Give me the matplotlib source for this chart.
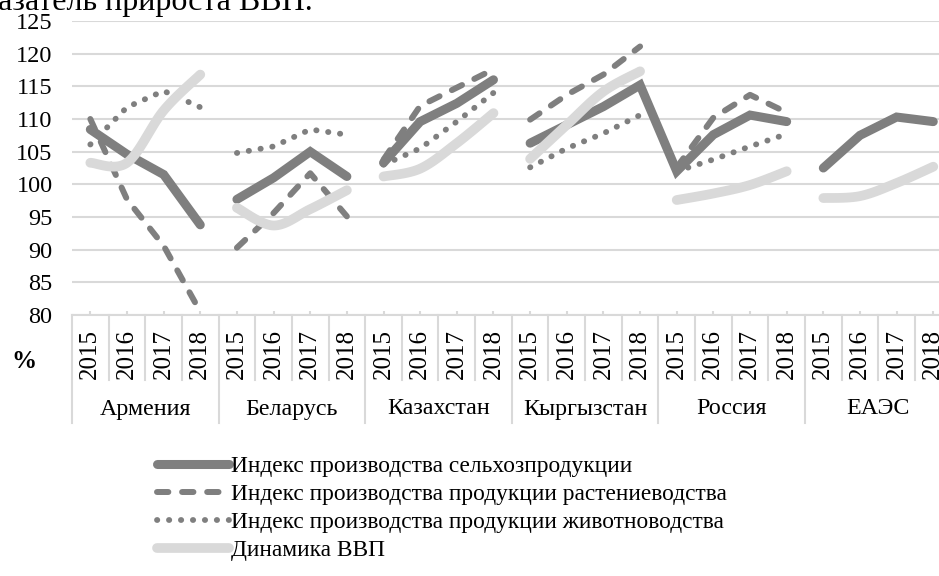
import numpy as np
import matplotlib
matplotlib.use('Agg')
import matplotlib.pyplot as plt
import matplotlib.transforms as mtransforms

plt.rcParams['font.family'] = ['Liberation Serif', 'DejaVu Serif']

countries = ['Армения', 'Беларусь', 'Казахстан', 'Кыргызстан', 'Россия', 'ЕАЭС']
years = ['2015', '2016', '2017', '2018']
nan = np.nan

agri = [108.4, 104.6, 101.5, 93.8,
        97.7, 101.0, 105.0, 101.2,
        103.3, 109.6, 112.4, 116.0,
        106.3, 109.1, 111.9, 115.2,
        102.0, 107.6, 110.6, 109.6,
        102.5, 107.5, 110.3, 109.6]
crop = [110.0, 97.7, 90.6, 80.5,
        90.3, 95.6, 101.7, 95.1,
        103.8, 112.0, 114.8, 117.6,
        109.9, 113.7, 116.8, 121.1,
        102.6, 110.2, 113.7, 111.0,
        nan, nan, nan, nan]
livestock = [106.1, 111.8, 114.3, 111.8,
             104.8, 105.8, 108.4, 107.6,
             103.0, 105.5, 109.6, 114.0,
             102.6, 105.5, 107.8, 110.6,
             102.0, 103.8, 105.8, 107.7,
             nan, nan, nan, nan]
gdp = [103.3, 103.3, 111.3, 116.8,
       96.4, 93.7, 96.2, 99.1,
       101.2, 102.4, 106.3, 110.9,
       103.9, 109.1, 114.2, 117.3,
       97.6, 98.6, 99.9, 102.0,
       97.9, 98.2, 100.2, 102.7]

labels = ['Индекс производства сельхозпродукции',
          'Индекс производства продукции растениеводства',
          'Индекс производства продукции животноводства',
          'Динамика ВВП']

# runs of categories drawn as one line (the first series is unbroken Kyrgyzstan -> Russia)
runs_agri = [(0, 4), (4, 8), (8, 12), (12, 20), (20, 24)]
runs_group = [(0, 4), (4, 8), (8, 12), (12, 16), (16, 20), (20, 24)]


def smooth(x, y, n=30):
    # Bezier smoothing through the points, like Excel's smoothed line
    x = np.asarray(x, float)
    y = np.asarray(y, float)
    px = np.concatenate([[x[0]], x, [x[-1]]])
    py = np.concatenate([[y[0]], y, [y[-1]]])
    t = np.linspace(0, 1, n)[:, None]
    xs, ys = [], []
    for i in range(len(x) - 1):
        p0 = np.array([px[i + 1], py[i + 1]])
        p3 = np.array([px[i + 2], py[i + 2]])
        c1 = p0 + (p3 - np.array([px[i], py[i]])) / 6
        c2 = p3 - (np.array([px[i + 3], py[i + 3]]) - p0) / 6
        b = ((1 - t) ** 3) * p0 + 3 * ((1 - t) ** 2) * t * c1 + 3 * (1 - t) * t ** 2 * c2 + t ** 3 * p3
        xs.append(b[:, 0])
        ys.append(b[:, 1])
    return np.concatenate(xs), np.concatenate(ys)


fig = plt.figure(figsize=(9.39, 5.76), dpi=100)
W, H = 939, 576
left, top, bottom = 72, 21, 315
cat_w = 36.65
ax = fig.add_axes([left / W, (H - bottom) / H, 24 * cat_w / W, (bottom - top) / H])

x = np.arange(24)
dark = '#7f7f7f'
light = '#d9d9d9'

styles = [
    dict(color=dark, lw=6.5, solid_capstyle='round', solid_joinstyle='miter'),
    dict(color=dark, lw=4.3, linestyle=(0, (1.9, 2.3)), dash_capstyle='round'),
    dict(color=dark, lw=4.2, linestyle=(0, (0.05, 2.0)), dash_capstyle='round'),
    dict(color=light, lw=7, solid_capstyle='round'),
]
series = [agri, crop, livestock, gdp]
all_runs = [runs_agri, runs_group, runs_group, runs_group]

handles = []
for k, (vals, runs, st) in enumerate(zip(series, all_runs, styles)):
    vals = np.asarray(vals, float)
    first = None
    for a, b in runs:
        xx, yy = x[a:b], vals[a:b]
        if np.all(np.isnan(yy)):
            continue
        if k == 3:
            xx, yy = smooth(xx, yy)
        ln, = ax.plot(xx, yy, **st)
        if first is None:
            first = ln
    handles.append(first)

ax.set_xlim(-0.5, 23.5)
ax.set_ylim(80, 125)
ax.set_yticks(np.arange(80, 126, 5))
ax.yaxis.grid(True, color=light, lw=1.5)
ax.set_axisbelow(True)
for s in ['left', 'right', 'top']:
    ax.spines[s].set_visible(False)
ax.spines['bottom'].set_color(light)
ax.spines['bottom'].set_linewidth(1.5)
ax.tick_params(axis='y', length=0, pad=14, labelsize=17.5)
ax.set_xticks(x)
ax.set_xticklabels(years * 6, rotation=90, fontsize=18)
ax.tick_params(axis='x', direction='in', length=3, color=light, width=1.5, pad=10)

# multi-level category separators
tr = mtransforms.blended_transform_factory(ax.transData, ax.transAxes)
h_ax = bottom - top
for i in range(25):
    depth = 108 if i % 4 == 0 else 65
    ax.plot([i - 0.5, i - 0.5], [0, -depth / h_ax], transform=tr, color=light,
            lw=1.5, clip_on=False)
for g, name in enumerate(countries):
    ax.text(g * 4 + 1.5, -(409 - bottom) / h_ax, name, transform=tr,
            ha='center', va='center', fontsize=17.3)

fig.text(24 / W, (H - 361) / H, '%', fontsize=18, fontweight='bold',
         ha='center', va='center')
fig.text(313 / W, (H - 10) / H, 'Показатель прироста ВВП.', fontsize=23,
         ha='right', va='baseline')

fig.legend(handles, labels, loc='upper left', bbox_to_anchor=(157 / W, (H - 456) / H),
           frameon=False, fontsize=16.8, handlelength=3.1, handletextpad=0.08,
           borderpad=0, borderaxespad=0, labelspacing=0.28)

fig.savefig('out.png', dpi=100)
